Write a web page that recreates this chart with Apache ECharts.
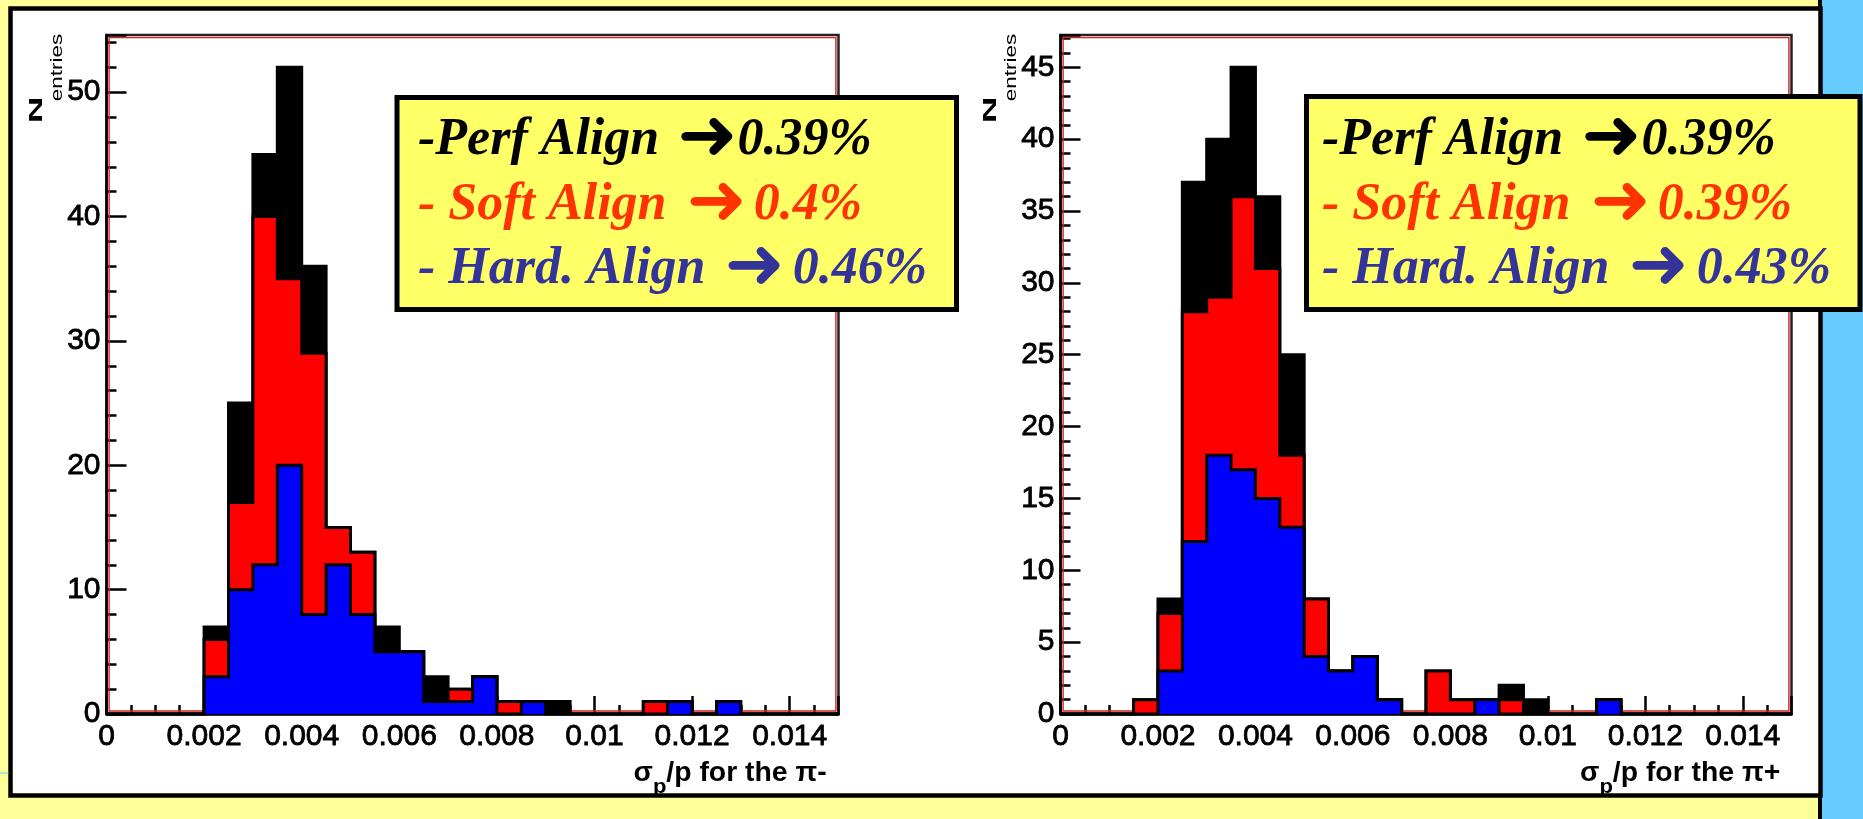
<!DOCTYPE html>
<html>
<head>
<meta charset="utf-8">
<script src="https://cdn.jsdelivr.net/npm/echarts@6/dist/echarts.min.js"></script>
<style>
html,body{margin:0;padding:0;background:#FFFF99;}
#c{width:1863px;height:819px;}
</style>
</head>
<body>
<div id="c"></div>
<script>
// ---------- DATA ----------
const binEdges = [0, 0.0005, 0.001, 0.0015, 0.002, 0.0025, 0.003, 0.0035, 0.004, 0.0045,
  0.005, 0.0055, 0.006, 0.0065, 0.007, 0.0075, 0.008, 0.0085, 0.009, 0.0095,
  0.01, 0.0105, 0.011, 0.0115, 0.012, 0.0125, 0.013, 0.0135, 0.014, 0.0145, 0.015];

// pi- (left panel)
const piMinusPerf = [0,0,0,0, 7,25,45,52,36,15,13,7,5,3,2,3,1,1,1,0, 0,0,1,1,0,0,0,0,0,0];
const piMinusSoft = [0,0,0,0, 6,17,40,35,29,15,13,5,5,1,2,3,1,1,0,0, 0,0,1,0,0,0,0,0,0,0];
const piMinusHard = [0,0,0,0, 3,10,12,20, 8,12, 8,5,5,1,1,3,0,1,0,0, 0,0,0,1,0,1,0,0,0,0];

// pi+ (right panel)
const piPlusPerf = [0,0,0,1, 8,37,40,45,36,25, 8,3,4,1,0,3,1,1,2,1, 0,0,1,0,0,0,0,0,0,0];
const piPlusSoft = [0,0,0,1, 7,28,29,36,31,18, 8,3,4,1,0,3,1,1,1,0, 0,0,1,0,0,0,0,0,0,0];
const piPlusHard = [0,0,0,0, 3,12,18,17,15,13, 4,3,4,1,0,0,0,1,0,0, 0,0,1,0,0,0,0,0,0,0];

const xTickLabels = ['0','0.002','0.004','0.006','0.008','0.01','0.012','0.014'];
const yTickLabelsLeft = ['0','10','20','30','40','50'];
const yTickLabelsRight = ['0','5','10','15','20','25','30','35','40','45'];

const xTitleLeft = '/p for the \u03c0-';
const xTitleRight = '/p for the \u03c0+';

const legendLeft = [
  ['-Perf Align', '0.39%'],
  ['- Soft Align', '0.4%'],
  ['- Hard. Align', '0.46%']
];
const legendRight = [
  ['-Perf Align', '0.39%'],
  ['- Soft Align', '0.39%'],
  ['- Hard. Align', '0.43%']
];
const legendColors = ['#000000', '#FF3300', '#333399'];
const histColors = ['#000000', '#FF0000', '#0000FF'];

// ---------- LAYOUT ----------
const G = [
  {left: 106.5, top: 35, width: 732, height: 679},
  {left: 1060.5, top: 35, width: 731, height: 679}
];
const titleX = [633.5, 1580];

function labelFor(v, interval, labels) {
  const idx = Math.round(v / interval);
  if (Math.abs(v - idx * interval) > interval * 1e-6) return '';
  return labels[idx] !== undefined ? labels[idx] : '';
}

function histData(values) {
  const d = values.map((v, i) => [binEdges[i], v]);
  d.push([binEdges[values.length], values[values.length - 1]]);
  return d;
}

const labelFont = {color: '#000', fontFamily: 'Liberation Sans', fontSize: 30, fontWeight: 'normal',
  textBorderColor: '#000', textBorderWidth: 0.8};

function xAxisOpt(gi) {
  return {
    gridIndex: gi, type: 'value', min: 0, max: 0.015, interval: 0.002,
    axisLine: {show: true, onZero: false, lineStyle: {color: '#000', width: 2.5}},
    axisTick: {show: true, inside: true, length: 18, lineStyle: {color: '#000', width: 2.5}},
    minorTick: {show: true, splitNumber: 4, length: 9, lineStyle: {color: '#000', width: 2.5}},
    splitLine: {show: false}, minorSplitLine: {show: false},
    axisLabel: Object.assign({show: true, margin: 8,
      showMaxLabel: false, showMinLabel: true, hideOverlap: false,
      formatter: v => labelFor(v, 0.002, xTickLabels)}, labelFont)
  };
}
function yAxisOpt(gi, max, interval, labels) {
  return {
    gridIndex: gi, type: 'value', min: 0, max: max, interval: interval,
    axisLine: {show: true, onZero: false, lineStyle: {color: '#000', width: 2.5}},
    axisTick: {show: true, inside: true, length: 20, lineStyle: {color: '#000', width: 2.5}},
    minorTick: {show: true, splitNumber: 5, length: 10, lineStyle: {color: '#000', width: 2.5}},
    splitLine: {show: false}, minorSplitLine: {show: false},
    axisLabel: Object.assign({show: true, margin: 6,
      showMaxLabel: false, showMinLabel: true, hideOverlap: false,
      formatter: v => labelFor(v, interval, labels)}, labelFont)
  };
}
function histSeries(gi, values, color, z) {
  return {
    type: 'line', xAxisIndex: gi, yAxisIndex: gi, step: 'end', symbol: 'none',
    showSymbol: false, animation: false, z: z, silent: true,
    data: histData(values),
    lineStyle: {color: '#000', width: 3, join: 'miter', cap: 'butt'},
    areaStyle: {color: color, opacity: 1, origin: 0}
  };
}

// ---------- GRAPHICS ----------
const graphics = [];
graphics.push({type: 'rect', z: -30, silent: true, shape: {x: 1822, y: 0, width: 41, height: 819}, style: {fill: '#66CCFF'}});
graphics.push({type: 'rect', z: -29, silent: true, shape: {x: 1818, y: 0, width: 4, height: 819}, style: {fill: '#000'}});
graphics.push({type: 'rect', z: -28, silent: true, shape: {x: 10.5, y: 8.5, width: 1810, height: 787}, style: {fill: '#FFFFFF', stroke: '#000', lineWidth: 4.5}});
graphics.push({type: 'line', z: -27, silent: true, shape: {x1: 0, y1: 773, x2: 8.5, y2: 773}, style: {stroke: '#66CCFF', lineWidth: 1}});

G.forEach(g => {
  graphics.push({type: 'rect', z: 1, silent: true,
    shape: {x: g.left + 2.6, y: g.top + 2.6, width: g.width - 5.2, height: g.height - 5.6},
    style: {fill: null, stroke: '#D42020', lineWidth: 1.4}});
});

// legend boxes
const boxes = [
  {x: 397, y: 97.5, width: 559.5, height: 212, textX: 418, lines: legendLeft},
  {x: 1306.5, y: 96.5, width: 553.5, height: 213, textX: 1322, lines: legendRight}
];
const lineCenters = [140.5, 205.5, 269.5];
const gapsBefore = [18, 20, 19];
const gapsAfter = [0, 7, 8];
boxes.forEach(b => {
  graphics.push({type: 'rect', z: 50, silent: true,
    shape: {x: b.x, y: b.y, width: b.width, height: b.height},
    style: {fill: '#FFFF66', stroke: '#000', lineWidth: 5}});
  b.lines.forEach((ln, i) => {
    const c = legendColors[i];
    graphics.push({type: 'text', z: 51, silent: true, x: b.textX, y: lineCenters[i],
      style: {
        text: '{t|' + ln[0] + '}{a|\u279C}{t2|' + ln[1] + '}',
        align: 'left', textAlign: 'left', verticalAlign: 'middle', textVerticalAlign: 'middle',
        rich: {
          t: {fontFamily: 'Liberation Serif', fontStyle: 'italic', fontWeight: 'bold', fontSize: 52,
              fill: c, color: c, verticalAlign: 'middle', lineHeight: 60},
          a: {fontFamily: 'DejaVu Sans', fontWeight: 'bold', fontSize: 72, fill: c, color: c,
              verticalAlign: 'middle', lineHeight: 60, padding: [0, gapsAfter[i], 0, gapsBefore[i]]},
          t2: {fontFamily: 'Liberation Serif', fontStyle: 'italic', fontWeight: 'bold', fontSize: 52,
              fill: c, color: c, verticalAlign: 'middle', lineHeight: 60}
        }
      }});
  });
});

// axis titles
[[G[0], xTitleLeft, titleX[0]], [G[1], xTitleRight, titleX[1]]].forEach(([g, t, tx]) => {
  graphics.push({type: 'text', z: 10, silent: true, x: tx, y: 760, scaleX: 1.05,
    style: {
      text: '{m|\u03c3}{s|p}{m|' + t + '}',
      align: 'left', textAlign: 'left', verticalAlign: 'top', textVerticalAlign: 'top',
      rich: {
        m: {fontFamily: 'Liberation Sans', fontWeight: 'bold', fontSize: 27, fill: '#000', color: '#000',
            lineHeight: 27, verticalAlign: 'top'},
        s: {fontFamily: 'Liberation Sans', fontWeight: 'bold', fontSize: 21, fill: '#000', color: '#000',
            lineHeight: 38, verticalAlign: 'bottom'}
      }
    }});
  const dx = g.left - G[0].left;
  graphics.push({type: 'text', z: 10, silent: true, x: 36.5 + dx, y: 110, rotation: Math.PI / 2, scaleY: 0.52,
    style: {text: 'N', fontFamily: 'Liberation Sans', fontWeight: 'bold', fontSize: 37, fill: '#000',
      align: 'center', textAlign: 'center', verticalAlign: 'middle', textVerticalAlign: 'middle'}});
  graphics.push({type: 'text', z: 10, silent: true, x: 57 + dx, y: 67.5, rotation: Math.PI / 2, scaleY: 0.75,
    style: {text: 'entries', fontFamily: 'Liberation Sans', fontSize: 22.5, fill: '#000',
      align: 'center', textAlign: 'center', verticalAlign: 'middle', textVerticalAlign: 'middle'}});
});

// ---------- CHART ----------
const chart = echarts.init(document.getElementById('c'), null, {renderer: 'canvas'});
chart.setOption({
  animation: false,
  backgroundColor: '#FFFF99',
  grid: G.map(g => Object.assign({}, g, {show: true, borderColor: '#222', borderWidth: 2.5,
    backgroundColor: 'transparent', containLabel: false, outerBoundsMode: 'none'})),
  xAxis: [xAxisOpt(0), xAxisOpt(1)],
  yAxis: [yAxisOpt(0, 54.6, 10, yTickLabelsLeft), yAxisOpt(1, 47.25, 5, yTickLabelsRight)],
  series: [
    histSeries(0, piMinusPerf, histColors[0], 3),
    histSeries(0, piMinusSoft, histColors[1], 4),
    histSeries(0, piMinusHard, histColors[2], 5),
    histSeries(1, piPlusPerf, histColors[0], 3),
    histSeries(1, piPlusSoft, histColors[1], 4),
    histSeries(1, piPlusHard, histColors[2], 5)
  ],
  graphic: {elements: graphics}
});
</script>
</body>
</html>
